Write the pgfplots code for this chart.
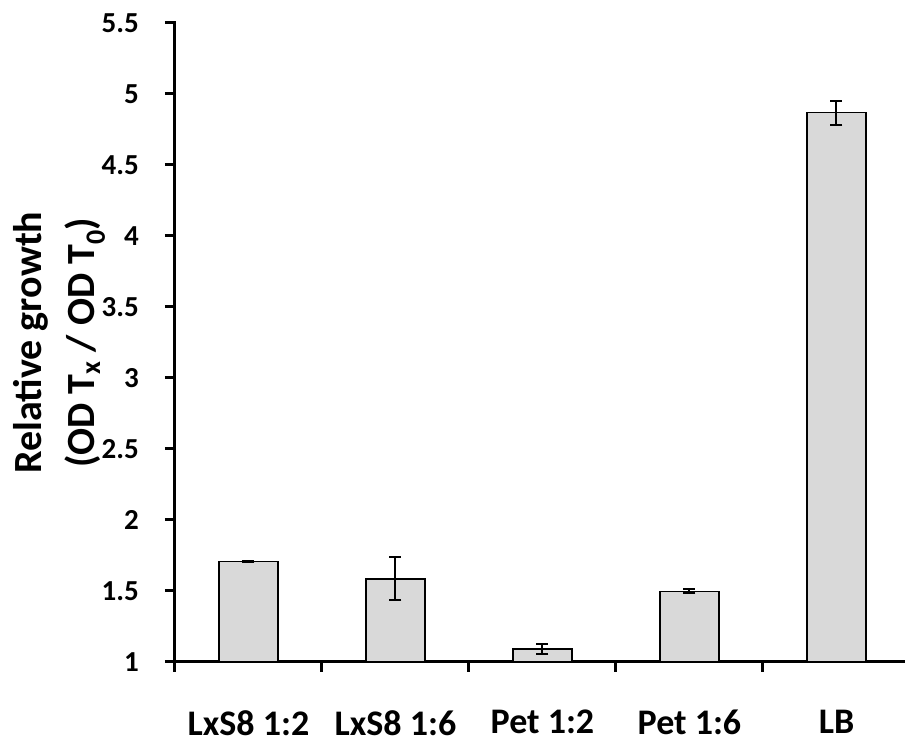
\documentclass[border=0pt]{standalone}
\usepackage{pgfplots}
\pgfplotsset{compat=1.18}
\usepackage{fontspec}
\setmainfont{Carlito}
\definecolor{barfill}{HTML}{D9D9D9}
\begin{document}
\begin{tikzpicture}
\begin{axis}[
  at={(0pt,0pt)}, anchor=south west,
  scale only axis,
  width=735pt, height=639pt,
  xmin=-0.5, xmax=4.5,
  ymin=1, ymax=5.5,
  ytick={1,1.5,...,5.5},
  xtick={0,1,2,3,4},
  xticklabels={LxS8 1:2, LxS8 1:6, Pet 1:2, Pet 1:6, LB},
  minor xtick={-0.5,0.5,1.5,2.5,3.5},
  major x tick style={draw=none},
  axis x line=bottom, axis y line=left,
  axis line style={-, line width=3pt, line cap=rect},
  tick style={line width=3pt, black},
  tick align=outside,
  major tick length=10pt, minor tick length=10pt,
  /pgf/number format/assume math mode=true,
  yticklabel style={font=\fontsize{29}{34}\selectfont\bfseries, inner sep=0pt, xshift=-26pt},
  xticklabel style={font=\fontsize{36}{43}\selectfont\bfseries, inner sep=0pt, anchor=north, yshift=-38pt},
  ylabel={\begin{tabular}[t]{@{}c@{}}Relative growth\\(OD T\textsubscript{x} / OD T\textsubscript{0})\end{tabular}},
  every axis y label/.style={at={(axis description cs:-0.18095,0.5)}, rotate=90, anchor=base, inner sep=0pt, font=\fontsize{40}{53}\selectfont\bfseries},
  ybar, bar width=59pt, bar shift=0pt,
  clip=true,
]
\addplot[fill=barfill, draw=black, line width=1.5pt,
  error bars/.cd, y dir=both, y explicit,
  error mark=|,
  error bar style={line width=2pt, black, solid},
  error mark options={line width=2pt, mark size=6pt, draw=black, solid}]
  coordinates {
  (0,1.706) +- (0,0.004)
  (1,1.585) +- (0,0.151)
  (2,1.090) +- (0,0.037)
  (3,1.497) +- (0,0.014)
  (4,4.868) +- (0,0.085)
};
\end{axis}
\pgfresetboundingbox
\path[use as bounding box] (-175pt,-76pt) rectangle (730pt,662pt);
\end{tikzpicture}
\end{document}
